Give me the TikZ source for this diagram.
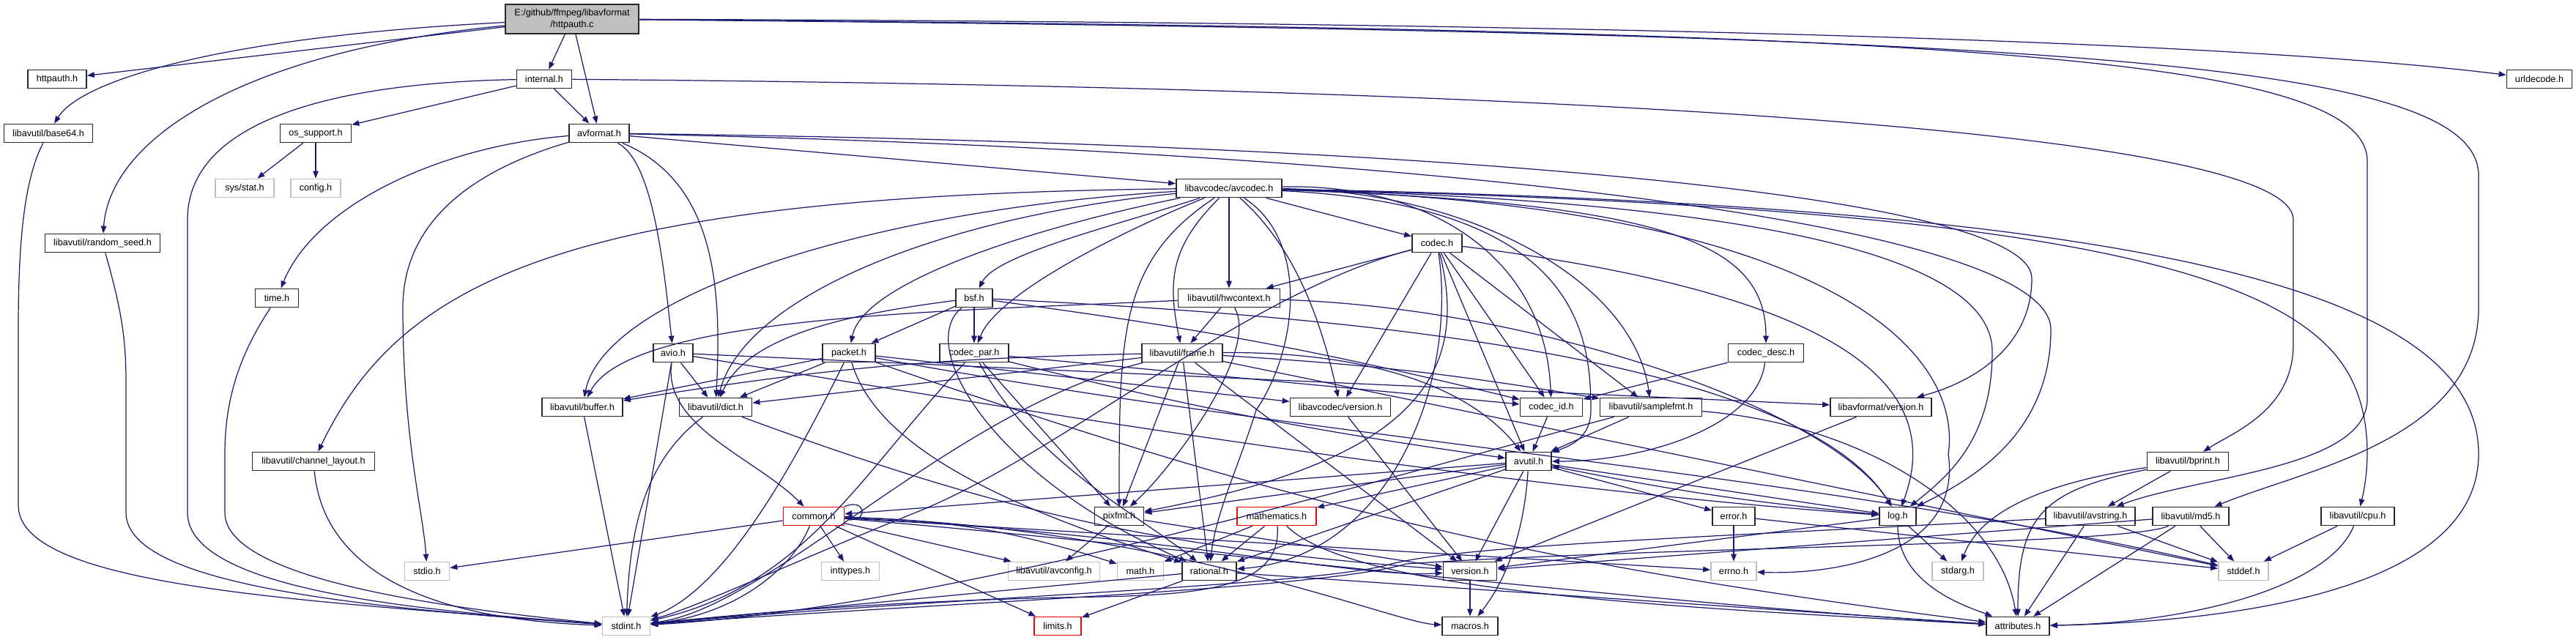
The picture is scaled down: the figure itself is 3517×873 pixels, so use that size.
\documentclass[tikz,border=0pt]{standalone}
\usepackage{fontspec}
\setmainfont{Liberation Sans}
\usetikzlibrary{arrows.meta,positioning}
\definecolor{edgeblue}{HTML}{191970}
\definecolor{undoc}{HTML}{BFBFBF}
\tikzset{
  hdr/.style={rectangle, draw=black!85, line width=0.5pt, fill=white,
    minimum height=2.5mm, inner sep=0pt, font=\fontsize{3.6}{4.4}\selectfont},
  sys/.style={hdr, draw=undoc},
  cut/.style={hdr, draw=red},
  srcfile/.style={hdr, fill=undoc, minimum height=4mm, align=center},
  dep/.style={-{Triangle[length=1mm,width=0.75mm]}, draw=edgeblue, line width=0.35pt}
}

\begin{document}
\begin{tikzpicture}[x=0.1mm, y=-0.1mm]
  \useasboundingbox (0,0) rectangle (3517,873);

  % source file and direct includes
  \node[srcfile, minimum width=18.2mm] (httpauthc) at (781,26) {E:/github/ffmpeg/libavformat\\/httpauth.c};
  \node[hdr, minimum width=8mm]    (httpauthh)  at (78,108)   {httpauth.h};
  \node[hdr, minimum width=7.5mm]  (internalh)  at (743,108)  {internal.h};
  \node[hdr, minimum width=8.9mm]  (urldecodeh) at (3467,108) {urldecode.h};
  \node[hdr, minimum width=12.1mm] (base64h)    at (66,182)   {libavutil/base64.h};
  \node[hdr, minimum width=9.7mm]  (ossupporth) at (431,182)  {os\_support.h};
  \node[hdr, minimum width=8.2mm]  (avformath)  at (818,182)  {avformat.h};
  \node[sys, minimum width=8mm]    (sysstath)   at (334,257)  {sys/stat.h};
  \node[sys, minimum width=6.8mm]  (configh)    at (431,257)  {config.h};
  \node[hdr, minimum width=14.4mm] (avcodech)   at (1678,257) {libavcodec/avcodec.h};
  \node[hdr, minimum width=15.7mm] (randomseedh) at (140,332) {libavutil/random\_seed.h};
  \node[hdr, minimum width=6.8mm]  (codech)     at (1962,332) {codec.h};

  % libavcodec layer
  \node[hdr, minimum width=5.9mm]  (timeh)      at (378,407)  {time.h};
  \node[hdr, minimum width=5mm]    (bsfh)       at (1330,407) {bsf.h};
  \node[hdr, minimum width=13.9mm] (hwcontexth) at (1678,407) {libavutil/hwcontext.h};
  \node[hdr, minimum width=5.4mm]  (avioh)      at (919,482)  {avio.h};
  \node[hdr, minimum width=7.2mm]  (packeth)    at (1159,482) {packet.h};
  \node[hdr, minimum width=9.4mm]  (codecparh)  at (1330,482) {codec\_par.h};
  \node[hdr, minimum width=11mm]   (frameh)     at (1614,482) {libavutil/frame.h};
  \node[hdr, minimum width=10.3mm] (codecdesch) at (2411,482) {codec\_desc.h};
  \node[hdr, minimum width=11mm]   (bufferh)    at (795,556)  {libavutil/buffer.h};
  \node[hdr, minimum width=9.9mm]  (dicth)      at (977,556)  {libavutil/dict.h};
  \node[hdr, minimum width=13.7mm] (lavcversionh) at (1830,556) {libavcodec/version.h};
  \node[hdr, minimum width=8.5mm]  (codecidh)   at (2118,556) {codec\_id.h};
  \node[hdr, minimum width=13.9mm] (samplefmth) at (2254,556) {libavutil/samplefmt.h};
  \node[hdr, minimum width=13.8mm] (lavfversionh) at (2568,556) {libavformat/version.h};

  % libavutil layer
  \node[hdr, minimum width=16.7mm] (channellayouth) at (428,630) {libavutil/channel\_layout.h};
  \node[hdr, minimum width=6.2mm]  (avutilh)    at (2087,630) {avutil.h};
  \node[hdr, minimum width=11.1mm] (bprinth)    at (2987,630) {libavutil/bprint.h};
  \node[cut, minimum width=8.3mm]  (commonh)    at (1111,705) {common.h};
  \node[hdr, minimum width=6.7mm]  (pixfmth)    at (1528,705) {pixfmt.h};
  \node[cut, minimum width=10.8mm] (mathematicsh) at (1743,705) {mathematics.h};
  \node[hdr, minimum width=5.8mm]  (errorh)     at (2367,705) {error.h};
  \node[hdr, minimum width=5mm]    (logh)       at (2591,705) {log.h};
  \node[hdr, minimum width=12.2mm] (avstringh)  at (2854,705) {libavutil/avstring.h};
  \node[hdr, minimum width=10.4mm] (md5h)       at (2991,705) {libavutil/md5.h};
  \node[hdr, minimum width=10mm]   (cpuh)       at (3219,705) {libavutil/cpu.h};

  % leaves
  \node[sys, minimum width=6.1mm]  (stdioh)     at (583,780)  {stdio.h};
  \node[sys, minimum width=7.9mm]  (inttypesh)  at (1161,780) {inttypes.h};
  \node[sys, minimum width=12.5mm] (avconfigh)  at (1439,780) {libavutil/avconfig.h};
  \node[sys, minimum width=6.3mm]  (mathh)      at (1557,780) {math.h};
  \node[hdr, minimum width=7.4mm]  (rationalh)  at (1651,780) {rational.h};
  \node[hdr, minimum width=7.3mm]  (versionh)   at (2007,780) {version.h};
  \node[sys, minimum width=6.2mm]  (errnoh)     at (2367,780) {errno.h};
  \node[sys, minimum width=7mm]    (stdargh)    at (2673,780) {stdarg.h};
  \node[sys, minimum width=6.8mm]  (stddefh)    at (3063,780) {stddef.h};
  \node[sys, minimum width=6.5mm]  (stdinth)    at (855,855)  {stdint.h};
  \node[cut, minimum width=6.4mm]  (limitsh)    at (1444,855) {limits.h};
  \node[hdr, minimum width=7.6mm]  (macrosh)    at (2007,855) {macros.h};
  \node[hdr, minimum width=8.6mm]  (attributesh) at (2755,855) {attributes.h};

  % plain include edges
  \foreach \a/\b in {httpauthc/httpauthh, httpauthc/internalh, httpauthc/avformath,
      internalh/ossupporth, internalh/avformath, ossupporth/sysstath, ossupporth/configh,
      avformath/avcodech, avioh/dicth, avioh/stdinth, avioh/lavfversionh,
      avcodech/hwcontexth, avcodech/codech,
      bsfh/codecparh, bsfh/packeth,
      codech/hwcontexth, codech/lavcversionh, codech/codecidh, codech/samplefmth, codech/avutilh,
      codecdesch/codecidh, codecidh/avutilh,
      codecparh/codecidh, codecparh/pixfmth,
      packeth/bufferh, packeth/dicth, packeth/lavcversionh, lavcversionh/versionh,
      hwcontexth/frameh,
      frameh/dicth, frameh/pixfmth, frameh/rationalh, frameh/versionh, frameh/stddefh,
      bufferh/stdinth, samplefmth/avutilh, lavfversionh/versionh,
      avutilh/versionh, avutilh/errorh, avutilh/logh, avutilh/mathematicsh,
      avutilh/pixfmth, avutilh/rationalh, avutilh/commonh,
      commonh/inttypesh, commonh/limitsh, commonh/avconfigh, commonh/stdioh, commonh/errnoh,
      errorh/errnoh, errorh/stddefh, logh/versionh, logh/stdargh,
      pixfmth/avconfigh, pixfmth/versionh, versionh/macrosh,
      mathematicsh/rationalh, mathematicsh/mathh,
      rationalh/limitsh, rationalh/stdinth, rationalh/attributesh,
      bprinth/avstringh, avstringh/stddefh, avstringh/attributesh,
      md5h/stddefh, md5h/attributesh, md5h/versionh, cpuh/stddefh}{
    \draw[dep] (\a) -- (\b);
  }

  % source file, routed edges
  \draw[dep] (httpauthc) .. controls (300,50) and (110,110) .. (base64h);
  \draw[dep] (httpauthc) .. controls (330,70) and (150,190) .. (randomseedh);
  \draw[dep] (httpauthc) .. controls (2000,30) and (3000,50) .. (urldecodeh);
  \draw[dep] (httpauthc) .. controls (2600,40) and (3232,70) .. (3232,220) -- (3232,545)
    .. controls (3232,640) and (3000,650) .. (avstringh);
  \draw[dep] (httpauthc) .. controls (2800,45) and (3384,80) .. (3384,240) -- (3384,420)
    .. controls (3384,600) and (3150,640) .. (md5h);

  % internal.h
  \draw[dep] (internalh) .. controls (500,112) and (256,150) .. (256,300) -- (256,700)
    .. controls (256,810) and (600,835) .. (stdinth);
  \draw[dep] (internalh) .. controls (2000,118) and (3131,170) .. (3131,300) -- (3131,470)
    .. controls (3131,560) and (3050,590) .. (bprinth);

  % left column down to stdint.h
  \draw[dep] (base64h) .. controls (30,250) and (25,350) .. (25,450) -- (25,690)
    .. controls (25,800) and (400,820) .. (stdinth);
  \draw[dep] (randomseedh) .. controls (165,420) and (172,460) .. (172,520) -- (172,700)
    .. controls (172,800) and (500,830) .. (stdinth);
  \draw[dep] (timeh) .. controls (330,480) and (307,540) .. (307,620) -- (307,700)
    .. controls (307,790) and (600,830) .. (stdinth);
  \draw[dep] (channellayouth) .. controls (440,760) and (550,845) .. (stdinth);

  % avformat.h
  \draw[dep] (avformath) .. controls (600,200) and (430,280) .. (timeh);
  \draw[dep] (avformath) .. controls (620,240) and (550,320) .. (550,420)
    .. controls (550,600) and (578,700) .. (stdioh);
  \draw[dep] (avformath) .. controls (890,220) and (905,350) .. (avioh);
  \draw[dep] (avformath) .. controls (980,250) and (985,400) .. (dicth);
  \draw[dep] (avformath) .. controls (1900,195) and (2774,260) .. (2774,380)
    .. controls (2774,470) and (2700,520) .. (lavfversionh);
  \draw[dep] (avformath) .. controls (1900,205) and (2800,300) .. (2800,450)
    .. controls (2800,600) and (2680,660) .. (logh);

  % avio.h
  \draw[dep] (avioh) .. controls (904,582) and (1031,625) .. (commonh);
  \draw[dep] (avioh) .. controls (1519,582) and (2091,670) .. (logh);

  % libavcodec/avcodec.h
  \draw[dep] (avcodech) .. controls (778,267) and (548,380) .. (channellayouth);
  \draw[dep] (avcodech) .. controls (1178,287) and (825,406) .. (bufferh);
  \draw[dep] (avcodech) .. controls (1278,297) and (1017,406) .. (dicth);
  \draw[dep] (avcodech) .. controls (1428,307) and (1179,382) .. (packeth);
  \draw[dep] (avcodech) .. controls (1528,307) and (1360,347) .. (bsfh);
  \draw[dep] (avcodech) .. controls (1528,317) and (1360,402) .. (codecparh);
  \draw[dep] (avcodech) .. controls (1598,337) and (1594,382) .. (frameh);
  \draw[dep] (avcodech) .. controls (1528,357) and (1528,455) .. (pixfmth);
  \draw[dep] (avcodech) .. controls (1760,330) and (1800,420) .. (lavcversionh);
  \draw[dep] (avcodech) .. controls (1790,330) and (1770,480) .. (1715,560)
    .. controls (1690,640) and (1660,700) .. (rationalh);
  \draw[dep] (avcodech) .. controls (1950,250) and (2110,350) .. (codecidh);
  \draw[dep] (avcodech) .. controls (2000,260) and (2230,380) .. (samplefmth);
  \draw[dep] (avcodech) .. controls (2150,280) and (2172,450) .. (2172,560)
    .. controls (2172,600) and (2140,610) .. (avutilh);
  \draw[dep] (avcodech) .. controls (2278,277) and (2411,332) .. (codecdesch);
  \draw[dep] (avcodech) .. controls (2400,275) and (2720,350) .. (2720,480)
    .. controls (2720,600) and (2660,650) .. (logh);
  \draw[dep] (avcodech) .. controls (2500,280) and (2680,480) .. (2660,620)
    .. controls (2680,760) and (2500,785) .. (errnoh);
  \draw[dep] (avcodech) .. controls (2700,280) and (3100,350) .. (3200,500)
    .. controls (3240,560) and (3235,640) .. (cpuh);
  \draw[dep] (avcodech) .. controls (2950,280) and (3384,400) .. (3384,620)
    .. controls (3384,820) and (3000,850) .. (attributesh);

  % bsf.h, codec.h, codec_desc.h, codec_par.h
  \draw[dep] (bsfh) .. controls (1150,430) and (1020,460) .. (dicth);
  \draw[dep] (bsfh) .. controls (1250,470) and (1350,650) .. (rationalh);
  \draw[dep] (bsfh) to[bend left=3] (codecidh);
  \draw[dep] (bsfh) .. controls (1800,430) and (2450,480) .. (logh);
  \draw[dep] (codech) .. controls (1700,400) and (1450,620) .. (1250,700)
    .. controls (1100,760) and (950,830) .. (stdinth);
  \draw[dep] (codech) .. controls (2010,520) and (1920,630) .. (pixfmth);
  \draw[dep] (codech) .. controls (1990,520) and (1900,760) .. (rationalh);
  \draw[dep] (codech) .. controls (2500,400) and (2660,520) .. (logh);
  \draw[dep] (codecdesch) .. controls (2400,580) and (2250,630) .. (avutilh);
  \draw[dep] (codecparh) to[bend right=3] (avutilh);
  \draw[dep] (codecparh) .. controls (1410,630) and (1550,700) .. (rationalh);
  \draw[dep] (codecparh) .. controls (1180,640) and (1100,800) .. (stdinth);

  % packet.h, hwcontext.h, frame.h
  \draw[dep] (packeth) .. controls (1100,600) and (1000,800) .. (stdinth);
  \draw[dep] (packeth) .. controls (1200,620) and (1400,700) .. (rationalh);
  \draw[dep] (packeth) .. controls (1800,600) and (2500,650) .. (stddefh);
  \draw[dep] (packeth) to[bend right=6] (attributesh);
  \draw[dep] (hwcontexth) .. controls (1300,425) and (860,430) .. (bufferh);
  \draw[dep] (hwcontexth) .. controls (1720,480) and (1600,640) .. (pixfmth);
  \draw[dep] (hwcontexth) .. controls (2100,420) and (2500,560) .. (logh);
  \draw[dep] (frameh) to[bend right=4] (bufferh);
  \draw[dep] (frameh) .. controls (1300,560) and (1050,830) .. (stdinth);
  \draw[dep] (frameh) .. controls (1850,480) and (2000,520) .. (avutilh);
  \draw[dep] (frameh) to[bend left=3] (samplefmth);

  % dict.h, samplefmt.h
  \draw[dep] (dicth) .. controls (880,630) and (860,720) .. (stdinth);
  \draw[dep] (dicth) to[bend right=8] (versionh);
  \draw[dep] (samplefmth) .. controls (1900,650) and (1300,830) .. (stdinth);
  \draw[dep] (samplefmth) .. controls (2550,580) and (2730,700) .. (attributesh);

  % avutil.h, common.h, mathematics.h, log.h
  \draw[dep] (avutilh) .. controls (2080,740) and (2050,800) .. (macrosh);
  \draw[dep] (logh) to[bend left=3] (avutilh);
  \draw[dep] (commonh.north east) .. controls +(30,-12) and +(30,8) .. (commonh.east);
  \draw[dep] (commonh) .. controls (1080,780) and (1000,840) .. (stdinth);
  \draw[dep] (commonh) to[bend left=8] (mathh);
  \draw[dep] (commonh) .. controls (1550,740) and (2200,820) .. (attributesh);
  \draw[dep] (commonh) .. controls (1600,720) and (1900,850) .. (macrosh);
  \draw[dep] (commonh) .. controls (1600,730) and (1850,790) .. (versionh);
  \draw[dep] (mathematicsh) .. controls (1750,800) and (1650,812) .. (1500,815)
    .. controls (1200,820) and (1000,840) .. (stdinth);
  \draw[dep] (mathematicsh) .. controls (1850,810) and (2300,830) .. (attributesh);
  \draw[dep] (logh) .. controls (2591,800) and (2690,830) .. (attributesh);

  % bprint.h, avstring.h, md5.h, cpu.h
  \draw[dep] (bprinth) .. controls (2787,660) and (2703,700) .. (stdargh);
  \draw[dep] (bprinth) .. controls (2787,670) and (2755,705) .. (attributesh);
  \draw[dep] (avstringh) .. controls (2300,735) and (2000,745) .. (1900,770)
    .. controls (1800,800) and (1300,815) .. (stdinth);
  \draw[dep] (md5h) .. controls (2900,745) and (2300,745) .. (1920,770)
    .. controls (1800,805) and (1300,822) .. (stdinth);
  \draw[dep] (cpuh) .. controls (3180,800) and (3000,850) .. (attributesh);
\end{tikzpicture}
\end{document}
